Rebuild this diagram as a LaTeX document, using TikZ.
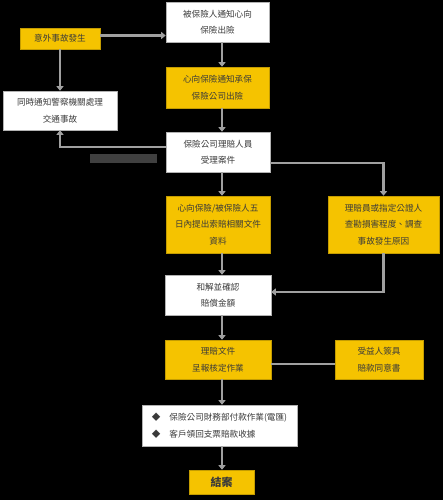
\documentclass[tikz,border=0pt]{standalone}
\usepackage{fontspec}
\setmainfont{Noto Sans CJK TC}
\usetikzlibrary{arrows.meta,calc}
\definecolor{gold}{HTML}{F5C300}
\definecolor{linegray}{HTML}{A0A0A0}
\definecolor{txt}{HTML}{3A3A3A}
\tikzset{
  box/.style={draw=gray!60,line width=0.6pt,fill=white,text=txt,align=center,inner sep=0pt,
    font=\fontsize{8.6}{16.5}\selectfont},
  ybox/.style={box,fill=gold,draw=gold!80!black},
  conn/.style={draw=linegray,line width=2.4pt},
  arr/.style={conn,-{Triangle[width=7pt,length=4.5pt]}},
}
\begin{document}
\begin{tikzpicture}[x=1pt,y=-1pt]
\fill[black] (0,0) rectangle (443,500);
\useasboundingbox (0,0) rectangle (443,500);
\coordinate (mx) at (222,0);
\coordinate (lx) at (60,0);
\node[box,minimum width=103,minimum height=40] (b1) at (217.5,22) {被保險人通知心向\\保險出險};
\node[ybox,minimum width=80,minimum height=21] (acc) at (60,38.5) {意外事故發生};
\node[ybox,minimum width=103,minimum height=41] (b2) at (217.5,87.5) {心向保險通知承保\\保險公司出險};
\node[box,minimum width=114,minimum height=39] (pol) at (60,110.5) {同時通知警察機關處理\\交通事故};
\node[box,minimum width=104,minimum height=40] (b3) at (218,152) {保險公司理賠人員\\受理案件};
\node[fill=black!75,minimum width=67,minimum height=9,inner sep=0pt] (lab) at (123.5,158.5) {};
\node[ybox,minimum width=104,minimum height=57] (b4) at (218,224.5) {心向保險/被保險人五\\日內提出索賠相關文件\\資料};
\node[ybox,minimum width=111,minimum height=57] (b5) at (383.5,224.5) {理賠員或指定公證人\\查勘損害程度、調查\\事故發生原因};
\node[box,minimum width=106,minimum height=40] (b6) at (218,295) {和解並確認\\賠償金額};
\node[ybox,minimum width=106,minimum height=39] (b7) at (218,359.5) {理賠文件\\呈報核定作業};
\node[ybox,minimum width=88,minimum height=39] (b8) at (379,359.5) {受益人簽具\\賠款同意書};
\node[box,minimum width=155,minimum height=41,align=left] (b9) at (219.5,425.5)
  {◆\hspace{9pt}保險公司財務部付款作業(電匯)\\◆\hspace{9pt}客戶領回支票賠款收據};
\node[ybox,minimum width=65,minimum height=24,font=\fontsize{11}{13}\selectfont\bfseries] (end) at (221.5,482) {結案};
% connectors
\draw[arr] ([yshift=3pt]acc.east) -- ([yshift=3pt]acc.east -| b1.west);
\draw[arr] (acc.south) -- (pol.north);
\draw[arr] (b1.south -| mx) -- (b2.north -| mx);
\draw[arr] (b2.south -| mx) -- (b3.north -| mx);
\draw[arr] ([yshift=5pt]b3.west) -| (pol.south);
\draw[arr] ([yshift=-11pt]b3.east) -| (b5.north);
\draw[arr] (b3.south -| mx) -- (b4.north -| mx);
\draw[arr] (b4.south -| mx) -- (b6.north -| mx);
\draw[arr] (b5.south) |- ([yshift=3pt]b6.east);
\draw[arr] (b6.south -| mx) -- (b7.north -| mx);
\draw[conn] ([yshift=-4.5pt]b7.east) -- ([yshift=-4.5pt]b7.east -| b8.west);
\draw[arr] (b7.south -| mx) -- (b9.north -| mx);
\draw[arr] (b9.south -| mx) -- (end.north -| mx);
\end{tikzpicture}
\end{document}
